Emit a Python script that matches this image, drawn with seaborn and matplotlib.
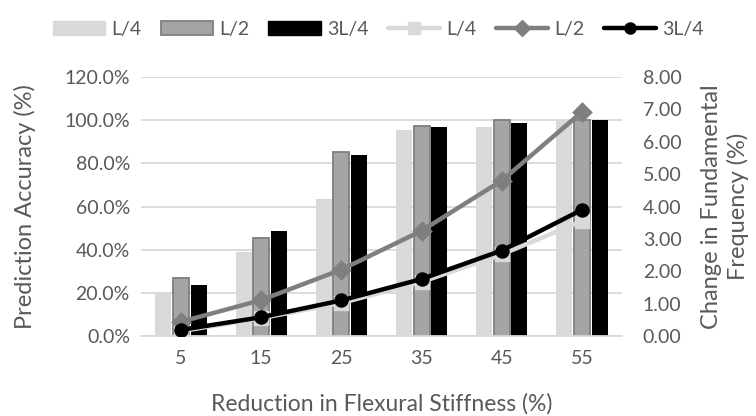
import numpy as np
import pandas as pd
import seaborn as sns
import matplotlib
matplotlib.use("Agg")
import matplotlib.pyplot as plt
from matplotlib.patches import Patch
from matplotlib.lines import Line2D
from matplotlib.ticker import FuncFormatter, MultipleLocator

# ---- data ----
stiffness = ["5", "15", "25", "35", "45", "55"]
locations = ["L/4", "L/2", "3L/4"]

acc_L4 = [20.3, 38.7, 63.6, 95.3, 96.8, 100.0]
acc_L2 = [26.8, 45.2, 85.1, 97.1, 100.0, 100.0]
acc_3L4 = [23.5, 48.7, 83.7, 96.8, 98.7, 100.0]

freq_L4 = [0.15, 0.55, 1.02, 1.67, 2.52, 3.55]
freq_L2 = [0.44, 1.11, 2.05, 3.25, 4.80, 6.92]
freq_3L4 = [0.19, 0.58, 1.10, 1.76, 2.64, 3.90]

bar_colors = ["#d9d9d9", "#a5a5a5", "#000000"]
line_colors = ["#d9d9d9", "#7f7f7f", "#000000"]
markers = ["s", "D", "o"]
text_color = "#595959"
grid_color = "#d9d9d9"

sns.set_theme(style="white")
plt.rcParams["font.family"] = ["Lato", "DejaVu Sans"]

bar_df = pd.DataFrame({
    "stiff": stiffness * 3,
    "loc": np.repeat(locations, len(stiffness)),
    "acc": acc_L4 + acc_L2 + acc_3L4,
})
line_df = pd.DataFrame({
    "stiff": stiffness * 3,
    "loc": np.repeat(locations, len(stiffness)),
    "freq": freq_L4 + freq_L2 + freq_3L4,
})

fig = plt.figure(figsize=(7.56, 4.16), dpi=100)
ax = fig.add_axes([0.1865, 0.1923, 0.6363, 0.6226])

sns.barplot(data=bar_df, x="stiff", y="acc", hue="loc", order=stiffness,
            hue_order=locations, palette=bar_colors, saturation=1,
            width=0.66, gap=0.09, ax=ax, legend=False, errorbar=None)
for cont, col in zip(ax.containers, bar_colors):
    for p in cont:
        if col == "#a5a5a5":
            p.set_edgecolor("#7f7f7f")
            p.set_linewidth(1.3)
        else:
            p.set_edgecolor(col)
            p.set_linewidth(0)

ax.set_ylim(0, 120)
ax.set_xlim(-0.5, 5.5)
ax.yaxis.set_major_locator(MultipleLocator(20))
ax.yaxis.set_major_formatter(FuncFormatter(lambda v, p: f"{v:.1f}%"))
ax.grid(axis="y", color=grid_color, linewidth=1.3)
ax.set_axisbelow(True)
for s in ["top", "right", "left"]:
    ax.spines[s].set_visible(False)
ax.spines["bottom"].set_color(grid_color)
ax.spines["bottom"].set_linewidth(1.3)
ax.tick_params(axis="y", length=0, pad=8, labelsize=14, labelcolor=text_color)
ax.tick_params(axis="x", length=0, pad=10, labelsize=14, labelcolor=text_color)

ax2 = ax.twinx()
sns.pointplot(data=line_df, x="stiff", y="freq", hue="loc", order=stiffness,
              hue_order=locations, palette=line_colors, markers=markers,
              linestyles=["-", "-", "-"], dodge=False, errorbar=None,
              markersize=8, linewidth=3.2, ax=ax2, legend=False)
ax2.set_ylim(0, 8)
ax2.set_xlim(-0.5, 5.5)
ax2.yaxis.set_major_locator(MultipleLocator(1))
ax2.yaxis.set_major_formatter(FuncFormatter(lambda v, p: f"{v:.2f}"))
for s in ["top", "right", "left", "bottom"]:
    ax2.spines[s].set_visible(False)
ax2.tick_params(axis="y", length=0, pad=15, labelsize=14, labelcolor=text_color)
ax2.set_xlabel("")

ax.set_xlabel("Reduction in Flexural Stiffness (%)", fontsize=16.5, color=text_color,
              va="center", ha="center")
ax.xaxis.set_label_coords(0.5, -0.262)
ax.set_ylabel("Prediction Accuracy (%)", fontsize=17, color=text_color,
              va="center", ha="center")
ax.yaxis.set_label_coords(-0.241, 0.5)
ax2.set_ylabel("Change in Fundamental\nFrequency (%)", fontsize=17,
               color=text_color, linespacing=1.3, va="center", ha="center",
               rotation=90)
ax2.yaxis.set_label_coords(1.214, 0.5)

handles = [
    Patch(facecolor=bar_colors[0], edgecolor=bar_colors[0]),
    Patch(facecolor=bar_colors[1], edgecolor="#7f7f7f", linewidth=1.3),
    Patch(facecolor=bar_colors[2], edgecolor=bar_colors[2]),
]
for c, m in zip(line_colors, markers):
    handles.append(Line2D([], [], color=c, marker=m, lw=3.2, ms=8))
labels = locations + locations
fig.legend(handles, labels, loc="center", bbox_to_anchor=(0.5, 0.93), ncol=6,
           frameon=False, fontsize=14, labelcolor=text_color, handlelength=2.7,
           handletextpad=0.3, columnspacing=1.0)

fig.savefig("out.png", dpi=100)
